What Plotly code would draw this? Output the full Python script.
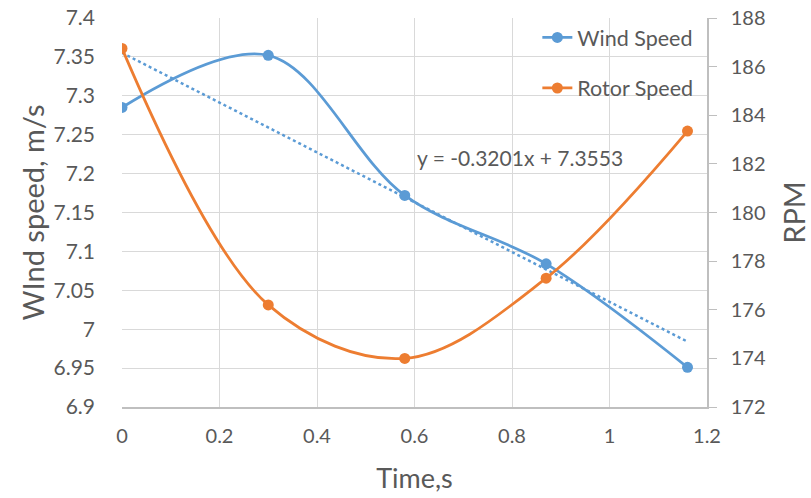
import plotly.graph_objects as go

time_s = [0, 0.3, 0.58, 0.87, 1.16]
wind_speed = [7.285, 7.352, 7.172, 7.084, 6.951]
rotor_speed = [186.75, 176.2, 174.0, 177.3, 183.35]
trend_slope = -0.3201
trend_intercept = 7.3553
trend_x = [0, 1.16]
trend_y = [trend_intercept + trend_slope * x for x in trend_x]

x_ticks = [0, 0.2, 0.4, 0.6, 0.8, 1, 1.2]
x_ticktext = ["0", "0.2", "0.4", "0.6", "0.8", "1", "1.2"]
y_ticks = [6.9, 6.95, 7.0, 7.05, 7.1, 7.15, 7.2, 7.25, 7.3, 7.35, 7.4]
y_ticktext = ["6.9", "6.95", "7", "7.05", "7.1", "7.15", "7.2", "7.25", "7.3", "7.35", "7.4"]
y2_ticks = [172, 174, 176, 178, 180, 182, 184, 186, 188]

BLUE = "#5B9BD5"
ORANGE = "#ED7D31"
TXT = "#595959"
FONT = "Lato"

fig = go.Figure()
fig.add_trace(go.Scatter(
    x=time_s, y=wind_speed, name="Wind Speed", mode="lines+markers",
    line=dict(color=BLUE, width=2.75, shape="spline", smoothing=1.0),
    marker=dict(size=11, color=BLUE), legend="legend"))
fig.add_trace(go.Scatter(
    x=trend_x, y=trend_y, mode="lines", showlegend=False,
    line=dict(color=BLUE, width=2.5, dash="dot")))
fig.add_trace(go.Scatter(
    x=time_s, y=rotor_speed, name="Rotor Speed", mode="lines+markers", yaxis="y2",
    line=dict(color=ORANGE, width=2.75, shape="spline", smoothing=1.0),
    marker=dict(size=11, color=ORANGE), legend="legend2"))

fig.add_annotation(
    x=0.6, y=7.2205, xref="x", yref="y", xanchor="left", yanchor="middle",
    text="y = -0.3201x + 7.3553", showarrow=False,
    font=dict(family=FONT, size=21, color=TXT))

fig.update_layout(
    width=811, height=498,
    margin=dict(l=122, r=104, t=18, b=91, autoexpand=False),
    paper_bgcolor="white", plot_bgcolor="white",
    font=dict(family=FONT, color=TXT),
    xaxis=dict(range=[0, 1.2], tickvals=x_ticks, ticktext=x_ticktext, automargin=False,
               showgrid=True, gridcolor="#D9D9D9", gridwidth=1,
               zeroline=False, showline=True, linecolor="#BFBFBF", linewidth=1.5,
               ticks="", tickfont=dict(size=20, color=TXT), ticklabelstandoff=10,
               title=dict(text="Time,s", font=dict(size=27, color=TXT), standoff=23)),
    yaxis=dict(range=[6.9, 7.4], tickvals=y_ticks, ticktext=y_ticktext, automargin=False,
               showgrid=True, gridcolor="#D9D9D9", gridwidth=1,
               zeroline=False, showline=False, ticks="",
               tickfont=dict(size=21, color=TXT), ticklabelstandoff=26,
               title=dict(text="WInd speed, m/s", font=dict(size=29, color=TXT), standoff=0)),
    yaxis2=dict(range=[172, 188], tickvals=y2_ticks, overlaying="y", side="right", automargin=False,
                showgrid=False, zeroline=False, showline=True, linecolor="#BFBFBF", linewidth=1.5,
                ticks="outside", ticklen=8, tickcolor="#BFBFBF",
                tickfont=dict(size=20, color=TXT), ticklabelstandoff=10,
                title=dict(text="RPM", font=dict(size=29, color=TXT), standoff=20)),
    legend=dict(x=0.71, y=0.95, xanchor="left", yanchor="middle",
                bgcolor="rgba(0,0,0,0)", font=dict(family=FONT, size=21.5, color=TXT)),
    legend2=dict(x=0.71, y=0.82, xanchor="left", yanchor="middle",
                 bgcolor="rgba(0,0,0,0)", font=dict(family=FONT, size=21.5, color=TXT)),
)

fig.write_html("out.html")
